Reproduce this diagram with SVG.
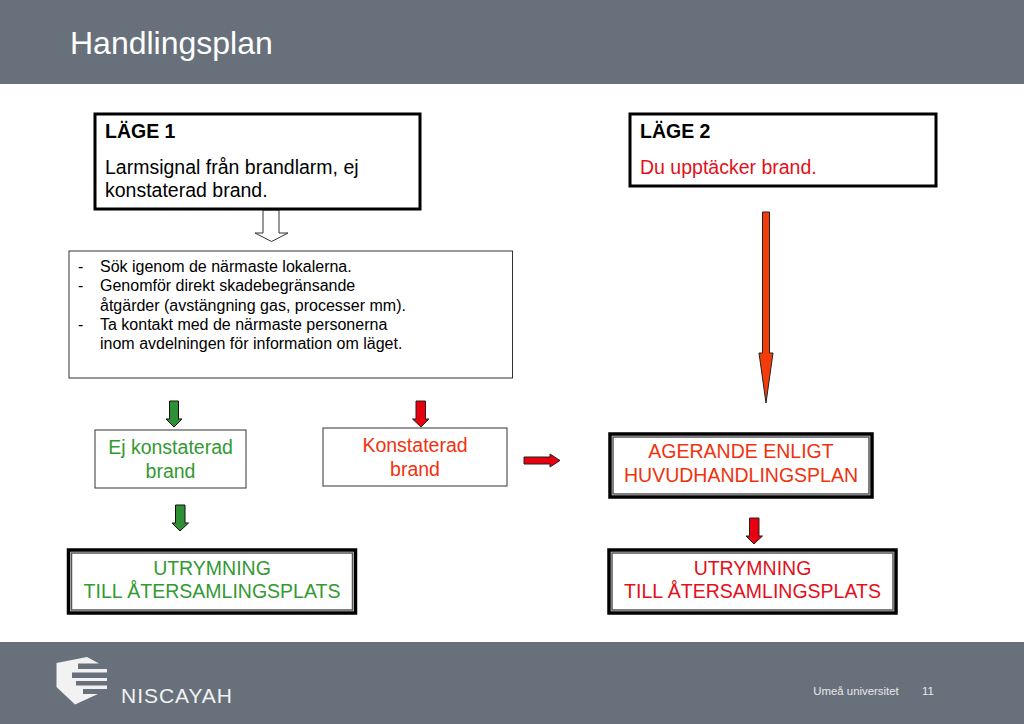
<svg xmlns="http://www.w3.org/2000/svg" width="1024" height="724" viewBox="0 0 1024 724">
<style>
text{font-family:"Liberation Sans",Arial,sans-serif}
.box{fill:#fff;stroke:#000;stroke-width:3}
.thin{fill:#fff;stroke:#333;stroke-width:1}
.o{fill:#fff;stroke:#000;stroke-width:3.5}
.i{fill:none;stroke:#555;stroke-width:1.5}
.t{font-size:19.5px;fill:#000}
.s{font-size:16px;fill:#000}
.m{font-size:19.5px;text-anchor:middle}
.g{fill:#339933}.r{fill:#e3101a}.or{fill:#f0320f}
.ga{fill:#2f8f35;stroke:#111;stroke-width:1}
.ra{fill:#e8000f;stroke:#222;stroke-width:1}
.f{font-size:11.4px;fill:#e8e8e8;text-anchor:middle}
</style>
<rect width="1024" height="724" fill="#fff"/>
<rect width="1024" height="84" fill="#68717b"/>
<rect y="642" width="1024" height="82" fill="#68717b"/>
<text x="70" y="53.500" font-size="32" fill="#fff">Handlingsplan</text>
<g id="logo">
<path d="M56.500 663L87 657L99 663.500H78V669H107V672.500H72V678H107V681H76V685.500H107V689H83V694H98L75 704.500L56.500 687Z" fill="#f2f2f2"/>
<text x="121" y="703" font-size="21" fill="#f2f2f2" textLength="111" lengthAdjust="spacing">NISCAYAH</text>
</g>
<text class="f" x="856" y="695">Umeå universitet</text>
<text class="f" x="928" y="695">11</text>
<g id="connectors">
<path d="M263 210V233H255L271.500 241.500L288 233H279V210Z" fill="#fff" stroke="#333" stroke-width="1"/>
<path d="M762.500 212H769.500V353H773L766 403L759 353H762.500Z" fill="#f33c0a" stroke="#222" stroke-width="1"/>
<path class="ga" d="M169.500 401H178.500V419H182L174 427L166 419H169.500Z"/>
<path class="ra" d="M416 401H425.500V419H429L421 427L412.500 419H416Z"/>
<path class="ga" d="M175.500 505H185V523H188.500L180 531L172 523H175.500Z"/>
<path class="ra" d="M749.500 518H759V536H762.500L754 544L746 536H749.500Z"/>
<path class="ra" d="M524 457H550V454L560 460.500L550 467V464H524Z"/>
</g>
<g id="lage1">
<rect class="box" x="95" y="114" width="325" height="95"/>
<text class="t" x="105" y="138" font-weight="bold">LÄGE 1</text>
<text class="t" x="105" y="173.500">Larmsignal från brandlarm, ej</text>
<text class="t" x="105" y="197">konstaterad brand.</text>
</g>
<g id="lage2">
<rect class="box" x="630" y="114" width="306" height="72"/>
<text class="t" x="640" y="138" font-weight="bold">LÄGE 2</text>
<text class="t" x="640" y="173.500" style="fill:#e3101a">Du upptäcker brand.</text>
</g>
<g id="atgarder">
<rect class="thin" x="69" y="251" width="443.500" height="127"/>
<text class="s" x="78" y="272">-</text><text class="s" x="100" y="272">Sök igenom de närmaste lokalerna.</text>
<text class="s" x="78" y="291">-</text><text class="s" x="100" y="291">Genomför direkt skadebegränsande</text>
<text class="s" x="100" y="311">åtgärder (avstängning gas, processer mm).</text>
<text class="s" x="78" y="330">-</text><text class="s" x="100" y="330">Ta kontakt med de närmaste personerna</text>
<text class="s" x="100" y="349">inom avdelningen för information om läget.</text>
</g>
<g id="ej-konstaterad">
<rect class="thin" x="95" y="430" width="151" height="58"/>
<text class="m g" x="170.500" y="454">Ej konstaterad</text>
<text class="m g" x="170.500" y="477.500">brand</text>
</g>
<g id="konstaterad">
<rect class="thin" x="323" y="428" width="184" height="58"/>
<text class="m or" x="415" y="452">Konstaterad</text>
<text class="m or" x="415" y="476">brand</text>
</g>
<g id="agerande">
<rect class="o" x="610" y="434" width="262" height="63"/>
<rect class="i" x="613" y="437" width="256" height="57"/>
<text class="m or" x="741" y="458">AGERANDE ENLIGT</text>
<text class="m or" x="741" y="482">HUVUDHANDLINGSPLAN</text>
</g>
<g id="utrymning-1">
<rect class="o" x="68.500" y="550" width="287" height="63"/>
<rect class="i" x="71.500" y="553" width="281" height="57"/>
<text class="m g" x="212" y="575">UTRYMNING</text>
<text class="m g" x="212" y="598">TILL ÅTERSAMLINGSPLATS</text>
</g>
<g id="utrymning-2">
<rect class="o" x="609" y="550" width="287" height="63"/>
<rect class="i" x="612" y="553" width="281" height="57"/>
<text class="m r" x="752.500" y="575">UTRYMNING</text>
<text class="m r" x="752.500" y="598">TILL ÅTERSAMLINGSPLATS</text>
</g>
</svg>
